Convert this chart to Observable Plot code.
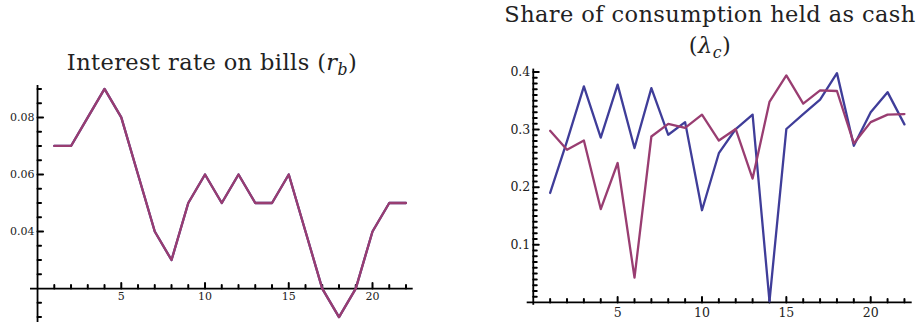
<!DOCTYPE html>
<html><head><meta charset="utf-8">
<script src="https://cdn.jsdelivr.net/npm/d3@7"></script>
<script src="https://cdn.jsdelivr.net/npm/@observablehq/plot@0.6"></script>
<style>
body{margin:0;background:#fff;}
#wrap{position:relative;width:916px;height:326px;overflow:hidden;font-family:'DejaVu Serif',serif;}
.title{position:absolute;font-size:22.5px;color:#222;white-space:nowrap;transform:translateX(-50%);text-align:center;line-height:31px;letter-spacing:0.4px;}
.sub{font-size:70%;position:relative;top:0.3em;font-style:italic;}
.panel{position:absolute;top:0;}
.panel svg, .panel svg text{font-family:'DejaVu Serif',serif;}
</style></head><body>
<div id="wrap">
<div id="left" class="panel" style="left:0px"></div>
<div id="right" class="panel" style="left:458px"></div>
<div class="title" style="left:212px;top:47px">Interest rate on bills (<i>r</i><span class="sub">b</span>)</div>
<div class="title" style="left:710px;top:-1px">Share of consumption held as cash<br>(<i>λ</i><span class="sub">c</span>)</div>
</div>
<script>
const periods = [1,2,3,4,5,6,7,8,9,10,11,12,13,14,15,16,17,18,19,20,21,22];
const rateBills = [0.07,0.07,0.08,0.09,0.08,0.06,0.04,0.03,0.05,0.06,0.05,0.06,0.05,0.05,0.06,0.04,0.02,0.01,0.02,0.04,0.05,0.05];
const cashShareA = [0.19,0.28,0.375,0.286,0.378,0.268,0.372,0.291,0.313,0.16,0.259,0.301,0.326,0.002,0.301,0.327,0.352,0.398,0.272,0.33,0.365,0.309];
const cashShareB = [0.298,0.265,0.281,0.162,0.242,0.043,0.288,0.31,0.303,0.326,0.281,0.301,0.215,0.348,0.394,0.345,0.368,0.367,0.276,0.313,0.326,0.327];

const xMajor = [5,10,15,20];
const xMinor = [1,2,3,4,6,7,8,9,11,12,13,14,16,17,18,19,21,22];
const leftYMajor = [0.04,0.06,0.08];
const leftYLabels = ["0.04","0.06","0.08"];
const leftYMinor = [0.01,0.015,0.025,0.03,0.035,0.045,0.05,0.055,0.065,0.07,0.075,0.085,0.09];
const rightYMajor = [0.1,0.2,0.3,0.4];
const rightYLabels = ["0.1","0.2","0.3","0.4"];
const rightYMinor = [0.01,0.02,0.03,0.04,0.05,0.06,0.07,0.08,0.09,0.11,0.12,0.13,0.14,0.15,0.16,0.17,0.18,0.19,0.21,0.22,0.23,0.24,0.25,0.26,0.27,0.28,0.29,0.31,0.32,0.33,0.34,0.35,0.36,0.37,0.38,0.39];

const BLUE = "#3f3d99", PURPLE = "#993d71";
const FONT = "DejaVu Serif";
const W = 458, H = 326;

function panel({series, xDomain, yDomain, margins, yOrigin, yMajor, yLabels, yMinor, fx, fy, dyX}) {
  const [ml, mr, mt, mb] = margins;
  const ux = (xDomain[1] - xDomain[0]) / (W - ml - mr);
  const uy = (yDomain[1] - yDomain[0]) / (H - mt - mb);
  const big = 5.5, small = 3.5;
  const rows = series.map(s => s.values.map((v,i)=>({t: periods[i], v, c: s.color})));
  const tickSegs = [];
  xMajor.forEach((t,i) => tickSegs.push({k:"xa"+i, x:t, y:yOrigin}, {k:"xa"+i, x:t, y:yOrigin + big*uy}));
  xMinor.forEach((t,i) => tickSegs.push({k:"xi"+i, x:t, y:yOrigin}, {k:"xi"+i, x:t, y:yOrigin + small*uy}));
  yMajor.forEach((t,i) => tickSegs.push({k:"ya"+i, x:0, y:t}, {k:"ya"+i, x:big*ux, y:t}));
  yMinor.forEach((t,i) => tickSegs.push({k:"yi"+i, x:0, y:t}, {k:"yi"+i, x:small*ux, y:t}));
  const marks = [
    Plot.ruleY([yOrigin], {stroke:"black", strokeWidth:1.8}),
    Plot.ruleX([0], {stroke:"black", strokeWidth:1.8}),
    Plot.line(tickSegs, {x:"x", y:"y", z:"k", stroke:"black", strokeWidth:2}),
    Plot.text(xMajor, {x: d=>d, y: yOrigin, text: d=>String(d), dy: dyX, lineAnchor:"top", fontSize: fx, fontFamily: FONT, fill:"#222"}),
    Plot.text(yMajor, {x: 0, y: d=>d, text: (d,i)=>yLabels[i], dx: -3, textAnchor:"end", fontSize: fy, fontFamily: FONT, fill:"#222"}),
    ...rows.map(r => Plot.line(r, {x:"t", y:"v", stroke: r[0].c, strokeWidth: 2.3}))
  ];
  return Plot.plot({
    width: W, height: H,
    marginLeft: ml, marginRight: mr, marginTop: mt, marginBottom: mb,
    x: {domain: xDomain, axis: null},
    y: {domain: yDomain, axis: null},
    style: {background: "transparent", overflow: "visible", fontFamily: FONT},
    marks
  });
}

document.getElementById("left").append(panel({
  series: [{values: rateBills, color: BLUE}, {values: rateBills, color: PURPLE}],
  xDomain: [-0.42, 22.43], yDomain: [0.0081, 0.0912],
  margins: [30, 45.3, 85, 4], yOrigin: 0.02,
  yMajor: leftYMajor, yLabels: leftYLabels, yMinor: leftYMinor, fx: 11, fy: 11, dyX: 4
}));
document.getElementById("right").append(panel({
  series: [{values: cashShareA, color: BLUE}, {values: cashShareB, color: PURPLE}],
  xDomain: [-0.36, 22.46], yDomain: [-0.005, 0.405],
  margins: [68.7, 4.3, 68.6, 21.2], yOrigin: 0,
  yMajor: rightYMajor, yLabels: rightYLabels, yMinor: rightYMinor, fx: 12.5, fy: 12.5, dyX: 6
}));
</script>
</body></html>
